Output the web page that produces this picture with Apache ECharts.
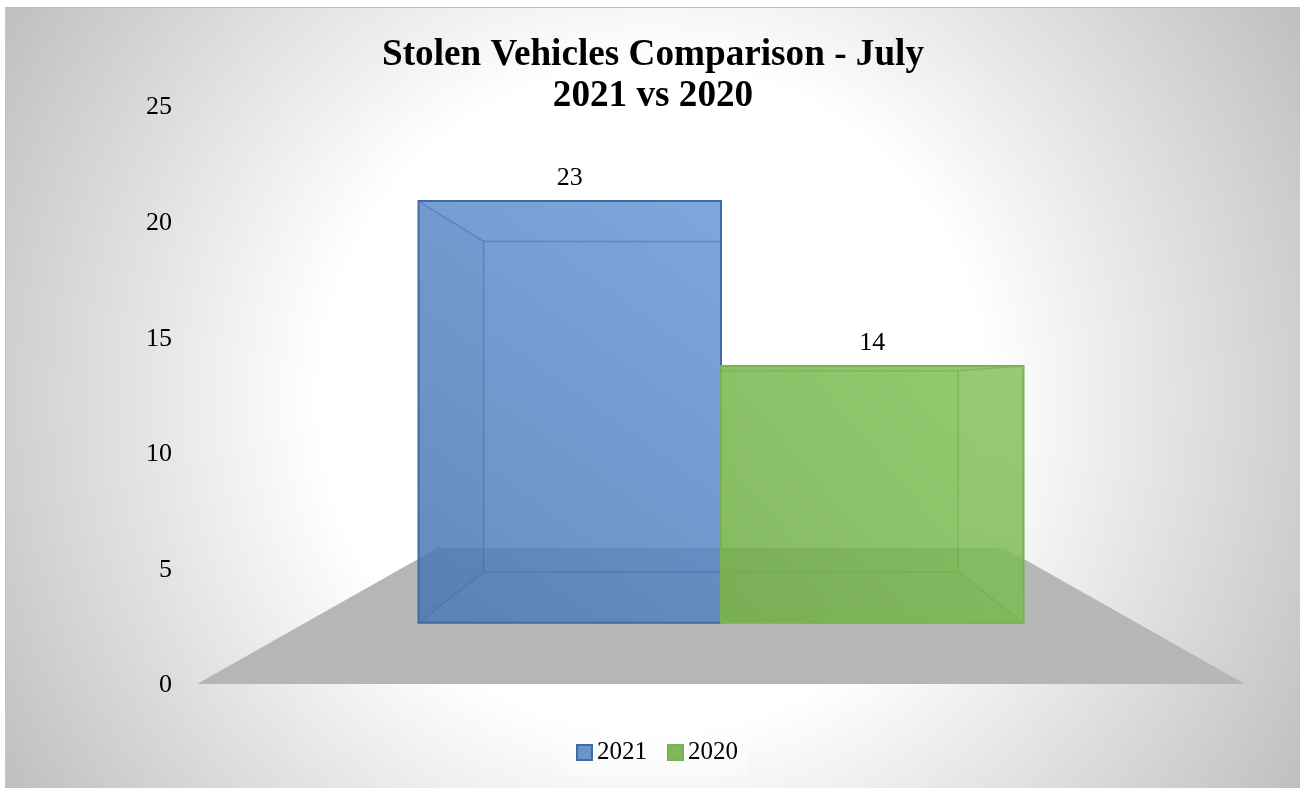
<!DOCTYPE html>
<html>
<head>
<meta charset="utf-8">
<title>Stolen Vehicles Comparison</title>
<script src="https://cdn.jsdelivr.net/npm/echarts@6/dist/echarts.min.js"></script>
<style>
  html, body { margin: 0; height: 100%; background: #fff; overflow: hidden; }
  #main {
    position: absolute; left: 5px; top: 7px; width: 1295px; height: 781px;
    border-top: 1px solid #bdbdbd; border-left: 1px solid #c4c4c4; box-sizing: border-box;
  }
</style>
</head>
<body>
<div id="main"></div>
<script>
const categories = [''];
const seriesNames = ['2021', '2020'];
const values2021 = [23];
const values2020 = [14];
const yTicks = { min: 0, max: 25, interval: 5 };

// perspective of the 3D box, scale 1 is the front edge of the floor
const horizonValue = 12.8;
const frontScale = 0.793;
const backScale = 0.622;
const floorBackScale = 0.54;
const barWidth = 0.364; // share of the category band

const blue = { from: 'rgba(75,120,180,0.84)', to: 'rgba(102,150,214,0.84)', edge: '#3e6ba6', inner: 'rgba(62,110,175,0.5)', side: 'rgba(30,60,110,0.04)' };
const green = { from: 'rgba(109,172,68,0.84)', to: 'rgba(127,193,85,0.84)', edge: '#77b350', inner: 'rgba(112,172,72,0.55)', side: 'rgba(255,255,255,0.03)' };

function projector(api) {
  const band = api.size([1, 0])[0];
  const cx = api.coord([0, 0])[0];
  const hy = api.coord([0, horizonValue])[1];
  return function (x, value, s) {
    const y = api.coord([0, value])[1];
    return [cx + x * band * s, hy + (y - hy) * s];
  };
}

function renderFloor(params, api) {
  const p = projector(api);
  return {
    type: 'polygon',
    shape: { points: [p(-0.5, 0, 1), p(0.5, 0, 1), p(0.5, 0, floorBackScale), p(-0.5, 0, floorBackScale)] },
    style: { fill: '#b6b6b6' },
    silent: true
  };
}

function boxRenderer(x0, x1, colors) {
  return function (params, api) {
    const p = projector(api);
    const v = api.value(1);
    const f = frontScale, b = backScale;
    const fbl = p(x0, 0, f), fbr = p(x1, 0, f), ftl = p(x0, v, f), ftr = p(x1, v, f);
    const bbl = p(x0, 0, b), bbr = p(x1, 0, b), btl = p(x0, v, b), btr = p(x1, v, b);
    const line = (a, c, color, w) => ({
      type: 'line',
      shape: { x1: a[0], y1: a[1], x2: c[0], y2: c[1] },
      style: { stroke: color, lineWidth: w }
    });
    const sideFace = x0 < 0 ? [ftl, btl, bbl, fbl] : [ftr, btr, bbr, fbr];
    const mid = p((x0 + x1) / 2, v, f);
    return {
      type: 'group',
      children: [
        {
          type: 'polygon',
          shape: { points: [ftl, ftr, fbr, fbl] },
          style: {
            fill: new echarts.graphic.LinearGradient(0, 1, 1, 0, [
              { offset: 0, color: colors.from },
              { offset: 1, color: colors.to }
            ])
          }
        },
        { type: 'polygon', shape: { points: sideFace }, style: { fill: colors.side } },
        line(btl, btr, colors.inner, 1.5),
        line(btl, bbl, colors.inner, 1.5),
        line(bbl, bbr, colors.inner, 1.5),
        line(btr, bbr, colors.inner, 1.5),
        line(ftl, btl, colors.inner, 1.5),
        line(ftr, btr, colors.inner, 1.5),
        line(fbl, bbl, colors.inner, 1.5),
        line(fbr, bbr, colors.inner, 1.5),
        { type: 'polygon', shape: { points: [ftl, ftr, fbr, fbl] }, style: { fill: 'none', stroke: colors.edge, lineWidth: 2 } },
        {
          type: 'text',
          style: {
            text: String(v), x: mid[0], y: mid[1] - 23,
            font: '26px "Liberation Serif"', fill: '#000',
            textAlign: 'center', textVerticalAlign: 'middle'
          }
        }
      ]
    };
  };
}

const chart = echarts.init(document.getElementById('main'));
chart.setOption({
  animation: false,
  backgroundColor: new echarts.graphic.RadialGradient(647, 390, 755, [
    { offset: 0, color: '#ffffff' },
    { offset: 0.44, color: '#ffffff' },
    { offset: 1, color: '#bfbfbf' }
  ], true),
  title: {
    text: 'Stolen Vehicles Comparison - July\n2021 vs 2020',
    left: 'center',
    top: 22,
    textStyle: { fontFamily: 'Liberation Serif', fontWeight: 'bold', fontSize: 37.2, lineHeight: 41, color: '#000' }
  },
  legend: {
    data: seriesNames,
    top: 723,
    left: 552,
    icon: 'rect',
    itemWidth: 15,
    itemHeight: 15,
    itemGap: 20,
    padding: [9, 10, 10, 18],
    backgroundColor: 'rgba(255,255,255,0.3)',
    textStyle: { fontFamily: 'Liberation Serif', fontSize: 25, color: '#000' }
  },
  grid: { left: 191, top: 98, width: 1048, height: 578 },
  xAxis: {
    type: 'category',
    data: categories,
    axisLine: { show: false },
    axisTick: { show: false },
    axisLabel: { show: false }
  },
  yAxis: {
    type: 'value',
    min: yTicks.min,
    max: yTicks.max,
    interval: yTicks.interval,
    axisLine: { show: false },
    axisTick: { show: false },
    splitLine: { show: false },
    axisLabel: {
      margin: 25,
      formatter: '{v|{value}}',
      rich: { v: { padding: [3, 0, 0, 0], fontFamily: 'Liberation Serif', fontSize: 26, color: '#000' } }
    }
  },
  series: [
    { type: 'custom', name: 'floor', silent: true, renderItem: renderFloor, encode: { x: 0, y: 1 }, data: [[0, 0]], clip: false },
    {
      type: 'custom', name: seriesNames[0], renderItem: boxRenderer(-barWidth, 0, blue),
      encode: { x: 0, y: 1 }, data: values2021.map((v, i) => [i, v]), clip: false,
      itemStyle: { color: '#6a95cb', borderColor: '#3e6ba6', borderWidth: 2 }
    },
    {
      type: 'custom', name: seriesNames[1], renderItem: boxRenderer(0, barWidth, green),
      encode: { x: 0, y: 1 }, data: values2020.map((v, i) => [i, v]), clip: false,
      itemStyle: { color: '#7fb75a', borderColor: '#77b350', borderWidth: 1 }
    }
  ]
});
</script>
</body>
</html>
